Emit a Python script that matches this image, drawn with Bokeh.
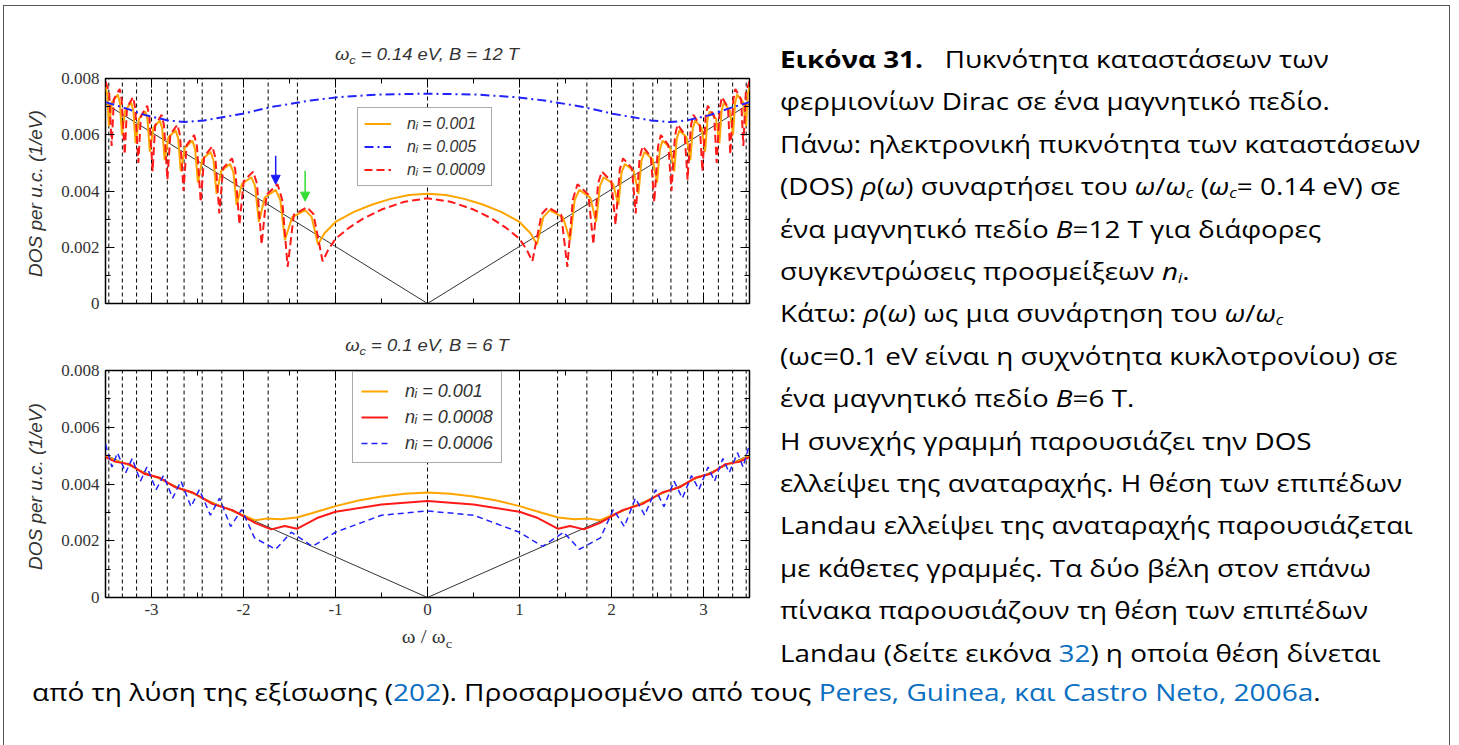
from bokeh.plotting import figure
from bokeh.models import (Range1d, LinearAxis, FixedTicker, Arrow, NormalHead,
                          Legend, LegendItem, Div, CustomLabelingPolicy)
from bokeh.layouts import column, row
from bokeh.embed import file_html
from bokeh.resources import INLINE

SANS = "Liberation Sans"
SERIF = "Liberation Serif"

# ---------------- axes ----------------
x_ticks = [-3, -2, -1, 0, 1, 2, 3]
x_tick_labels = ["-3", "-2", "-1", "0", "1", "2", "3"]
x_minor = [-3.5, -2.5, -1.5, -0.5, 0.5, 1.5, 2.5, 3.5]
y_ticks = [0, 0.002, 0.004, 0.006, 0.008]
y_tick_labels = ["0", "0.002", "0.004", "0.006", "0.008"]
y_minor = [0.001, 0.003, 0.005, 0.007]
y_label = "DOS per u.c.  (1/eV)"

# Landau levels E_n = sqrt(n) * wc
landau_x = [-3.464, -3.317, -3.162, -3.0, -2.828, -2.646, -2.449, -2.236, -2.0,
            -1.732, -1.414, -1.0, 0.0, 1.0, 1.414, 1.732, 2.0, 2.236, 2.449,
            2.646, 2.828, 3.0, 3.162, 3.317, 3.464]

# clean (no disorder) DOS
clean_x = [-3.5, 0.0, 3.5]
clean_top_y = [0.0071, 0.0, 0.0071]
clean_bot_y = [0.00502, 0.0, 0.00502]

# ---------------- top panel: wc = 0.14 eV, B = 12 T ----------------
top_title = "ω<sub>c</sub> = 0.14 eV, B = 12 T"

top_orange_x = [-3.5, -3.48, -3.463, -3.429, -3.366, -3.344, -3.321, -3.286, -3.22, -3.197, -3.173,
                -3.136, -3.067, -3.043, -3.018, -2.98, -2.91, -2.884, -2.857, -2.815, -2.738, -2.71,
                -2.682, -2.638, -2.556, -2.526, -2.495, -2.447, -2.359, -2.326, -2.293, -2.242, -2.146,
                -2.11, -2.074, -2.018, -1.915, -1.874, -1.833, -1.769, -1.65, -1.6, -1.55, -1.473,
                -1.33, -1.26, -1.19, -1.12, -1.0, -0.8, -0.6, -0.4, -0.2, 0.0,
                0.2, 0.4, 0.6, 0.8, 1.0, 1.12, 1.19, 1.26, 1.33, 1.473, 1.55, 1.6, 1.65, 1.769,
                1.833, 1.874, 1.915, 2.018, 2.074, 2.11, 2.146, 2.242, 2.293, 2.326, 2.359, 2.447,
                2.495, 2.526, 2.556, 2.638, 2.682, 2.71, 2.738, 2.815, 2.857, 2.884, 2.91, 2.98,
                3.018, 3.043, 3.067, 3.136, 3.173, 3.197, 3.22, 3.286, 3.321, 3.344, 3.366, 3.429,
                3.463, 3.48, 3.5]
top_orange_y = [0.0077, 0.00742, 0.0063, 0.00716, 0.00743, 0.00714, 0.0060, 0.00687, 0.00714, 0.00685, 0.0057,
                0.00656, 0.00683, 0.00654, 0.0054, 0.00624, 0.00651, 0.00623, 0.0051, 0.00591, 0.00616, 0.00587,
                0.0047, 0.00553, 0.00579, 0.00549, 0.0043, 0.00513, 0.00539, 0.00509, 0.0039, 0.00471, 0.00496,
                0.00467, 0.0035, 0.00425, 0.00449, 0.00417, 0.0029, 0.00377, 0.00404, 0.00368, 0.00225, 0.00306,
                0.00332, 0.00308, 0.0021, 0.0025, 0.0029, 0.00326, 0.00352, 0.00372, 0.00386, 0.0039,
                0.00386, 0.00372, 0.00352, 0.00326, 0.0029, 0.0025, 0.0021, 0.00308, 0.00332, 0.00306, 0.00225,
                0.00368, 0.00404, 0.00377, 0.0029, 0.00417, 0.00449, 0.00425, 0.0035, 0.00467, 0.00496, 0.00471,
                0.0039, 0.00509, 0.00539, 0.00513, 0.0043, 0.00549, 0.00579, 0.00553, 0.0047, 0.00587, 0.00616,
                0.00591, 0.0051, 0.00623, 0.00651, 0.00624, 0.0054, 0.00654, 0.00683, 0.00656, 0.0057, 0.00685,
                0.00714, 0.00687, 0.0060, 0.00714, 0.00743, 0.00716, 0.0063, 0.00742, 0.0077]

top_red_x = [-3.5, -3.46, -3.433, -3.409, -3.346, -3.324, -3.291, -3.266, -3.2, -3.177, -3.143, -3.116,
             -3.047, -3.023, -2.988, -2.96, -2.89, -2.864, -2.827, -2.795, -2.718, -2.69, -2.652, -2.618,
             -2.536, -2.506, -2.465, -2.427, -2.339, -2.306, -2.263, -2.222, -2.126, -2.09, -2.044, -1.998,
             -1.895, -1.854, -1.803, -1.749, -1.63, -1.58, -1.52, -1.453, -1.31, -1.24, -1.14, -1.08, -1.0,
             -0.85, -0.7, -0.5, -0.25, 0.0,
             0.25, 0.5, 0.7, 0.85, 1.0, 1.08, 1.14, 1.24, 1.31, 1.453, 1.52, 1.58, 1.63, 1.749, 1.803,
             1.854, 1.895, 1.998, 2.044, 2.09, 2.126, 2.222, 2.263, 2.306, 2.339, 2.427, 2.465, 2.506,
             2.536, 2.618, 2.652, 2.69, 2.718, 2.795, 2.827, 2.864, 2.89, 2.96, 2.988, 3.023, 3.047,
             3.116, 3.143, 3.177, 3.2, 3.266, 3.291, 3.324, 3.346, 3.409, 3.433, 3.46, 3.5]
top_red_y = [0.0079, 0.0075, 0.0056, 0.00726, 0.00763, 0.00724, 0.0053, 0.00697, 0.00734, 0.00695, 0.0050, 0.00666,
             0.00703, 0.00664, 0.0047, 0.00634, 0.00671, 0.00633, 0.0044, 0.00601, 0.00636, 0.00597, 0.0040, 0.00563,
             0.00599, 0.00559, 0.0036, 0.00523, 0.00559, 0.00519, 0.0032, 0.00481, 0.00516, 0.00477, 0.0028, 0.00435,
             0.00469, 0.00427, 0.0021, 0.00387, 0.00424, 0.0037, 0.0013, 0.00316, 0.00342, 0.00318, 0.0015, 0.0019, 0.0023,
             0.0027, 0.00302, 0.00334, 0.00362, 0.00374,
             0.00362, 0.00334, 0.00302, 0.0027, 0.0023, 0.0019, 0.0015, 0.00318, 0.00342, 0.00316, 0.0013, 0.0037,
             0.00424, 0.00387, 0.0021, 0.00427, 0.00469, 0.00435, 0.0028, 0.00477, 0.00516, 0.00481, 0.0032, 0.00519,
             0.00559, 0.00523, 0.0036, 0.00559, 0.00599, 0.00563, 0.0040, 0.00597, 0.00636, 0.00601, 0.0044, 0.00633,
             0.00671, 0.00634, 0.0047, 0.00664, 0.00703, 0.00666, 0.0050, 0.00695, 0.00734, 0.00697, 0.0053, 0.00724,
             0.00763, 0.00726, 0.0056, 0.0075, 0.0079]

top_blue_x = [-3.5, -3.27, -3.06, -2.82, -2.64, -2.43, -2.01, -1.69, -1.27, -0.95, -0.53, 0.0,
              0.53, 0.95, 1.27, 1.69, 2.01, 2.43, 2.64, 2.82, 3.06, 3.27, 3.5]
top_blue_y = [0.00716, 0.00693, 0.00669, 0.00651, 0.00645, 0.00651, 0.00675, 0.00699, 0.00722, 0.00734, 0.00743, 0.00746,
              0.00743, 0.00734, 0.00722, 0.00699, 0.00675, 0.00651, 0.00645, 0.00651, 0.00669, 0.00693, 0.00716]

# self-consistent Landau level positions marked by arrows
arrow_x = [-1.65, -1.33]
arrow_top = [0.00525, 0.00472]
arrow_tip = [0.00424, 0.00364]
arrow_colors = ["#1a1aff", "#33dd33"]

# ---------------- bottom panel: wc = 0.1 eV, B = 6 T ----------------
bot_title = "ω<sub>c</sub> = 0.1 eV, B = 6 T"
x_label = "ω / ω<sub>c</sub>"
bot_orange_x = [-3.5, -3.39, -3.24, -3.08, -2.91, -2.74, -2.55, -2.34, -2.12, -1.87, -1.75, -1.6, -1.42,
                -1.25, -1.0, -0.75, -0.5, -0.25, 0.0, 0.25, 0.5, 0.75, 1.0, 1.25,
                1.42, 1.6, 1.75, 1.87, 2.12, 2.34, 2.55, 2.74, 2.91, 3.08, 3.24, 3.39, 3.5]
bot_orange_y = [0.0050, 0.00482, 0.00468, 0.00438, 0.00420, 0.00390, 0.00368, 0.00333, 0.00306, 0.00272, 0.00278, 0.00276, 0.00282,
                0.00298, 0.00322, 0.00342, 0.00356, 0.00366, 0.0037, 0.00366, 0.00356, 0.00342, 0.00322, 0.00298,
                0.00282, 0.00276, 0.00278, 0.00272, 0.00306, 0.00333, 0.00368, 0.00390, 0.00420, 0.00438, 0.00468, 0.00482, 0.0050]

bot_red_x = [-3.5, -3.39, -3.24, -3.08, -2.91, -2.74, -2.55, -2.34, -2.12, -1.87, -1.70, -1.55, -1.42,
             -1.2, -1.0, -0.5, 0.0, 0.5, 1.0, 1.2,
             1.42, 1.55, 1.70, 1.87, 2.12, 2.34, 2.55, 2.74, 2.91, 3.08, 3.24, 3.39, 3.5]
bot_red_y = [0.00495, 0.00478, 0.00470, 0.00436, 0.00422, 0.00388, 0.00370, 0.00330, 0.00308, 0.00262, 0.00240, 0.00252, 0.00242,
             0.0028, 0.00302, 0.00328, 0.0034, 0.00328, 0.00302, 0.0028,
             0.00242, 0.00252, 0.00240, 0.00262, 0.00308, 0.00330, 0.00370, 0.00388, 0.00422, 0.00436, 0.00470, 0.00478, 0.00495]

bot_blue_x = [-3.5, -3.43, -3.37, -3.28, -3.21, -3.12, -3.05, -2.95, -2.87, -2.77, -2.68, -2.57, -2.48, -2.36,
              -2.26, -2.14, -2.02, -1.88, -1.65, -1.48, -1.25, -1.0, -0.5, 0.0,
              0.5, 1.0, 1.25, 1.48, 1.65, 1.88, 2.02, 2.14, 2.26, 2.36, 2.48, 2.57, 2.68, 2.77, 2.87,
              2.95, 3.05, 3.12, 3.21, 3.28, 3.37, 3.43, 3.5]
bot_blue_y = [0.0054, 0.0046, 0.0051, 0.0044, 0.0049, 0.0041, 0.0046, 0.0038, 0.0043, 0.0035, 0.0041, 0.0032, 0.0038, 0.0029,
              0.0035, 0.0025, 0.0031, 0.0021, 0.0017, 0.0023, 0.0018, 0.0023, 0.0029, 0.00305,
              0.0029, 0.0023, 0.0018, 0.0023, 0.0017, 0.0021, 0.0031, 0.0025, 0.0035, 0.0029, 0.0038, 0.0032, 0.0041, 0.0035, 0.0043,
              0.0038, 0.0046, 0.0041, 0.0049, 0.0044, 0.0051, 0.0046, 0.0054]

ORANGE = "#ffa500"
RED = "#ff1a1a"
BLUE = "#2222ff"
TXT = "#333333"

# labels of the mirrored (top / right) axes are suppressed
NO_LABELS = "for (const i of [...indices]) indices.unset(i)"


def style_axis(ax, ticks, minor, labels, show):
    ax.ticker = FixedTicker(ticks=ticks, minor_ticks=minor)
    ax.major_label_overrides = dict(zip(ticks, labels))
    ax.axis_line_color = None
    ax.major_tick_in = 9
    ax.major_tick_out = 0
    ax.minor_tick_in = 5
    ax.minor_tick_out = 0
    ax.major_tick_line_color = "black"
    ax.minor_tick_line_color = "black"
    ax.major_label_text_font = SERIF
    ax.major_label_text_color = TXT
    if show:
        ax.major_label_text_font_size = "17px"
        ax.major_label_standoff = 6
    else:
        ax.major_label_text_font_size = "0px"
        ax.major_label_standoff = 0
        ax.major_label_policy = CustomLabelingPolicy(code=NO_LABELS)


def make_panel(height, top, bottom, show_x):
    p = figure(width=756, height=height, x_range=Range1d(-3.5, 3.5),
               y_range=Range1d(0, 0.008), output_backend="svg",
               toolbar_location=None, min_border_left=101, min_border_right=11,
               min_border_top=top, min_border_bottom=bottom)
    p.xgrid.visible = False
    p.ygrid.visible = False
    p.outline_line_color = "black"
    p.outline_line_width = 1.5
    p.background_fill_color = "white"
    p.border_fill_color = "white"
    style_axis(p.xaxis[0], x_ticks, x_minor, x_tick_labels, show_x)
    style_axis(p.yaxis[0], y_ticks, y_minor, y_tick_labels, True)
    top_ax = LinearAxis()
    right_ax = LinearAxis()
    style_axis(top_ax, x_ticks, x_minor, x_tick_labels, False)
    style_axis(right_ax, y_ticks, y_minor, y_tick_labels, False)
    p.add_layout(top_ax, "above")
    p.add_layout(right_ax, "right")
    p.yaxis[0].axis_label = y_label
    p.yaxis[0].axis_label_text_font = SANS
    p.yaxis[0].axis_label_text_font_style = "italic"
    p.yaxis[0].axis_label_text_font_size = "19px"
    p.yaxis[0].axis_label_text_color = TXT
    p.yaxis[0].axis_label_standoff = 12
    p.segment(x0=landau_x, y0=0, x1=landau_x, y1=0.008, line_color="black",
              line_width=1, line_dash="4 3")
    return p


def make_legend(p, items, loc, size, lh, standoff, pad):
    leg = Legend(items=[LegendItem(label=t, renderers=[r]) for t, r in items],
                 location=loc, label_text_font=SANS, label_text_font_style="italic",
                 label_text_font_size=size, label_text_color=TXT, glyph_width=27,
                 glyph_height=lh, label_height=lh, label_standoff=standoff,
                 spacing=4, padding=pad, margin=0, border_line_color="#555555",
                 border_line_width=1.5, background_fill_alpha=1.0)
    p.add_layout(leg)


def text_div(html, width, height, css, pad_top, pad_left, center=None, scale=1.0):
    if center is None:
        inner = (f"<div style=\"transform:scaleX({scale}); transform-origin:0 0; "
                 f"white-space:nowrap;\">{html}</div>")
        box = f"<div style=\"{css} padding:{pad_top}px 0 0 {pad_left}px;\">{inner}</div>"
    else:
        inner = (f"<div style=\"width:{2 * center}px; text-align:center; white-space:nowrap; "
                 f"transform:scaleX({scale}); transform-origin:{center}px 0;\">{html}</div>")
        box = f"<div style=\"{css} padding:{pad_top}px 0 0 0;\">{inner}</div>"
    return Div(text=box, width=width, height=height, margin=0)


# ---- top panel ----
p1 = make_panel(252, 8, 19, False)
p1.line(clean_x, clean_top_y, line_color="#333333", line_width=1)
r_o1 = p1.line(top_orange_x, top_orange_y, line_color=ORANGE, line_width=2)
r_r1 = p1.line(top_red_x, top_red_y, line_color=RED, line_width=2, line_dash="8 4")
r_b1 = p1.line(top_blue_x, top_blue_y, line_color=BLUE, line_width=2, line_dash="9 4 2 4")
for xa, y0, y1, c in zip(arrow_x, arrow_top, arrow_tip, arrow_colors):
    p1.add_layout(Arrow(end=NormalHead(size=9, fill_color=c, line_color=c),
                        x_start=xa, y_start=y0, x_end=xa, y_end=y1,
                        line_color=c, line_width=1.5))
make_legend(p1, [("nᵢ = 0.001", r_o1), ("nᵢ = 0.005", r_b1), ("nᵢ = 0.0009", r_r1)],
            (252, 117), "16px", 19, 16, 6)

# ---- bottom panel ----
p2 = make_panel(263, 8, 28, True)
p2.line(clean_x, clean_bot_y, line_color="#333333", line_width=1)
r_o2 = p2.line(bot_orange_x, bot_orange_y, line_color=ORANGE, line_width=2)
r_r2 = p2.line(bot_red_x, bot_red_y, line_color=RED, line_width=2)
r_b2 = p2.line(bot_blue_x, bot_blue_y, line_color=BLUE, line_width=1.5, line_dash="6 4")
make_legend(p2, [("nᵢ = 0.001", r_o2), ("nᵢ = 0.0008", r_r2), ("nᵢ = 0.0006", r_b2)],
            (247, 134), "18px", 22, 17, 8)

# ---- panel titles and x label ----
title_css = (f"font-family:'{SANS}'; font-style:italic; font-size:16px; line-height:20px; "
             f"color:{TXT};")
xlab_css = f"font-family:'{SERIF}'; font-size:19px; line-height:20px; color:{TXT};"
sub_fix = "<sub style='font-size:70%'>"
t1 = text_div(top_title.replace("<sub>", sub_fix), 756, 64, title_css, 39, 0, center=423, scale=1.15)
t2 = text_div(bot_title.replace("<sub>", sub_fix), 756, 40, title_css, 14, 0, center=423, scale=1.15)
xl = text_div(x_label.replace("<sub>", sub_fix), 756, 35, xlab_css, 2, 0, center=423, scale=1.1)

# ---------------- caption ----------------
LINK = "#0b6fc2"
caption_lines = [
    "<b>Εικόνα 31.</b>&nbsp;&nbsp; Πυκνότητα καταστάσεων των",
    "φερμιονίων Dirac σε ένα μαγνητικό πεδίο.",
    "Πάνω: ηλεκτρονική πυκνότητα των καταστάσεων",
    "(DOS) <i>ρ</i>(<i>ω</i>) συναρτήσει του <i>ω</i>/<i>ω<sub>c</sub></i> (<i>ω<sub>c</sub></i>= 0.14 eV) σε",
    "ένα μαγνητικό πεδίο <i>B</i>=12 T για διάφορες",
    "συγκεντρώσεις προσμείξεων <i>n<sub>i</sub></i>.",
    "Κάτω: <i>ρ</i>(<i>ω</i>) ως μια συνάρτηση του <i>ω</i>/<i>ω<sub>c</sub></i>",
    "(ωc=0.1 eV είναι η συχνότητα κυκλοτρονίου) σε",
    "ένα μαγνητικό πεδίο <i>B</i>=6 T.",
    "Η συνεχής γραμμή παρουσιάζει την DOS",
    "ελλείψει της αναταραχής. Η θέση των επιπέδων",
    "Landau ελλείψει της αναταραχής παρουσιάζεται",
    "με κάθετες γραμμές. Τα δύο βέλη στον επάνω",
    "πίνακα παρουσιάζουν τη θέση των επιπέδων",
    f"Landau (δείτε εικόνα <span style='color:{LINK}'>32</span>) η οποία θέση δίνεται",
]
caption_last = (f"από τη λύση της εξίσωσης (<span style='color:{LINK}'>202</span>). "
                f"Προσαρμοσμένο από τους <span style='color:{LINK}'>Peres, Guinea, και Castro Neto, 2006a</span>.")

cap_css = "font-family:'Open Sans'; font-size:23px; line-height:42.4px; color:#000;"
cap_sub = "<sub style='font-size:60%; line-height:0; vertical-align:-0.25em'>"
div_right = text_div("<br>".join(caption_lines).replace("<sub>", cap_sub), 689, 654,
                     cap_css, 32, 20, scale=1.21)
div_bottom = text_div(caption_last, 1445, 85, cap_css, 11, 28, scale=1.22)

left = column(t1, p1, t2, p2, xl)
page = column(row(left, div_right), div_bottom,
              styles={"position": "absolute", "left": "3px", "top": "5px",
                      "border-left": "1.5px solid #555", "border-top": "1.5px solid #555",
                      "border-right": "1.5px solid #555"})

open("out.html", "w").write(file_html(page, INLINE))
